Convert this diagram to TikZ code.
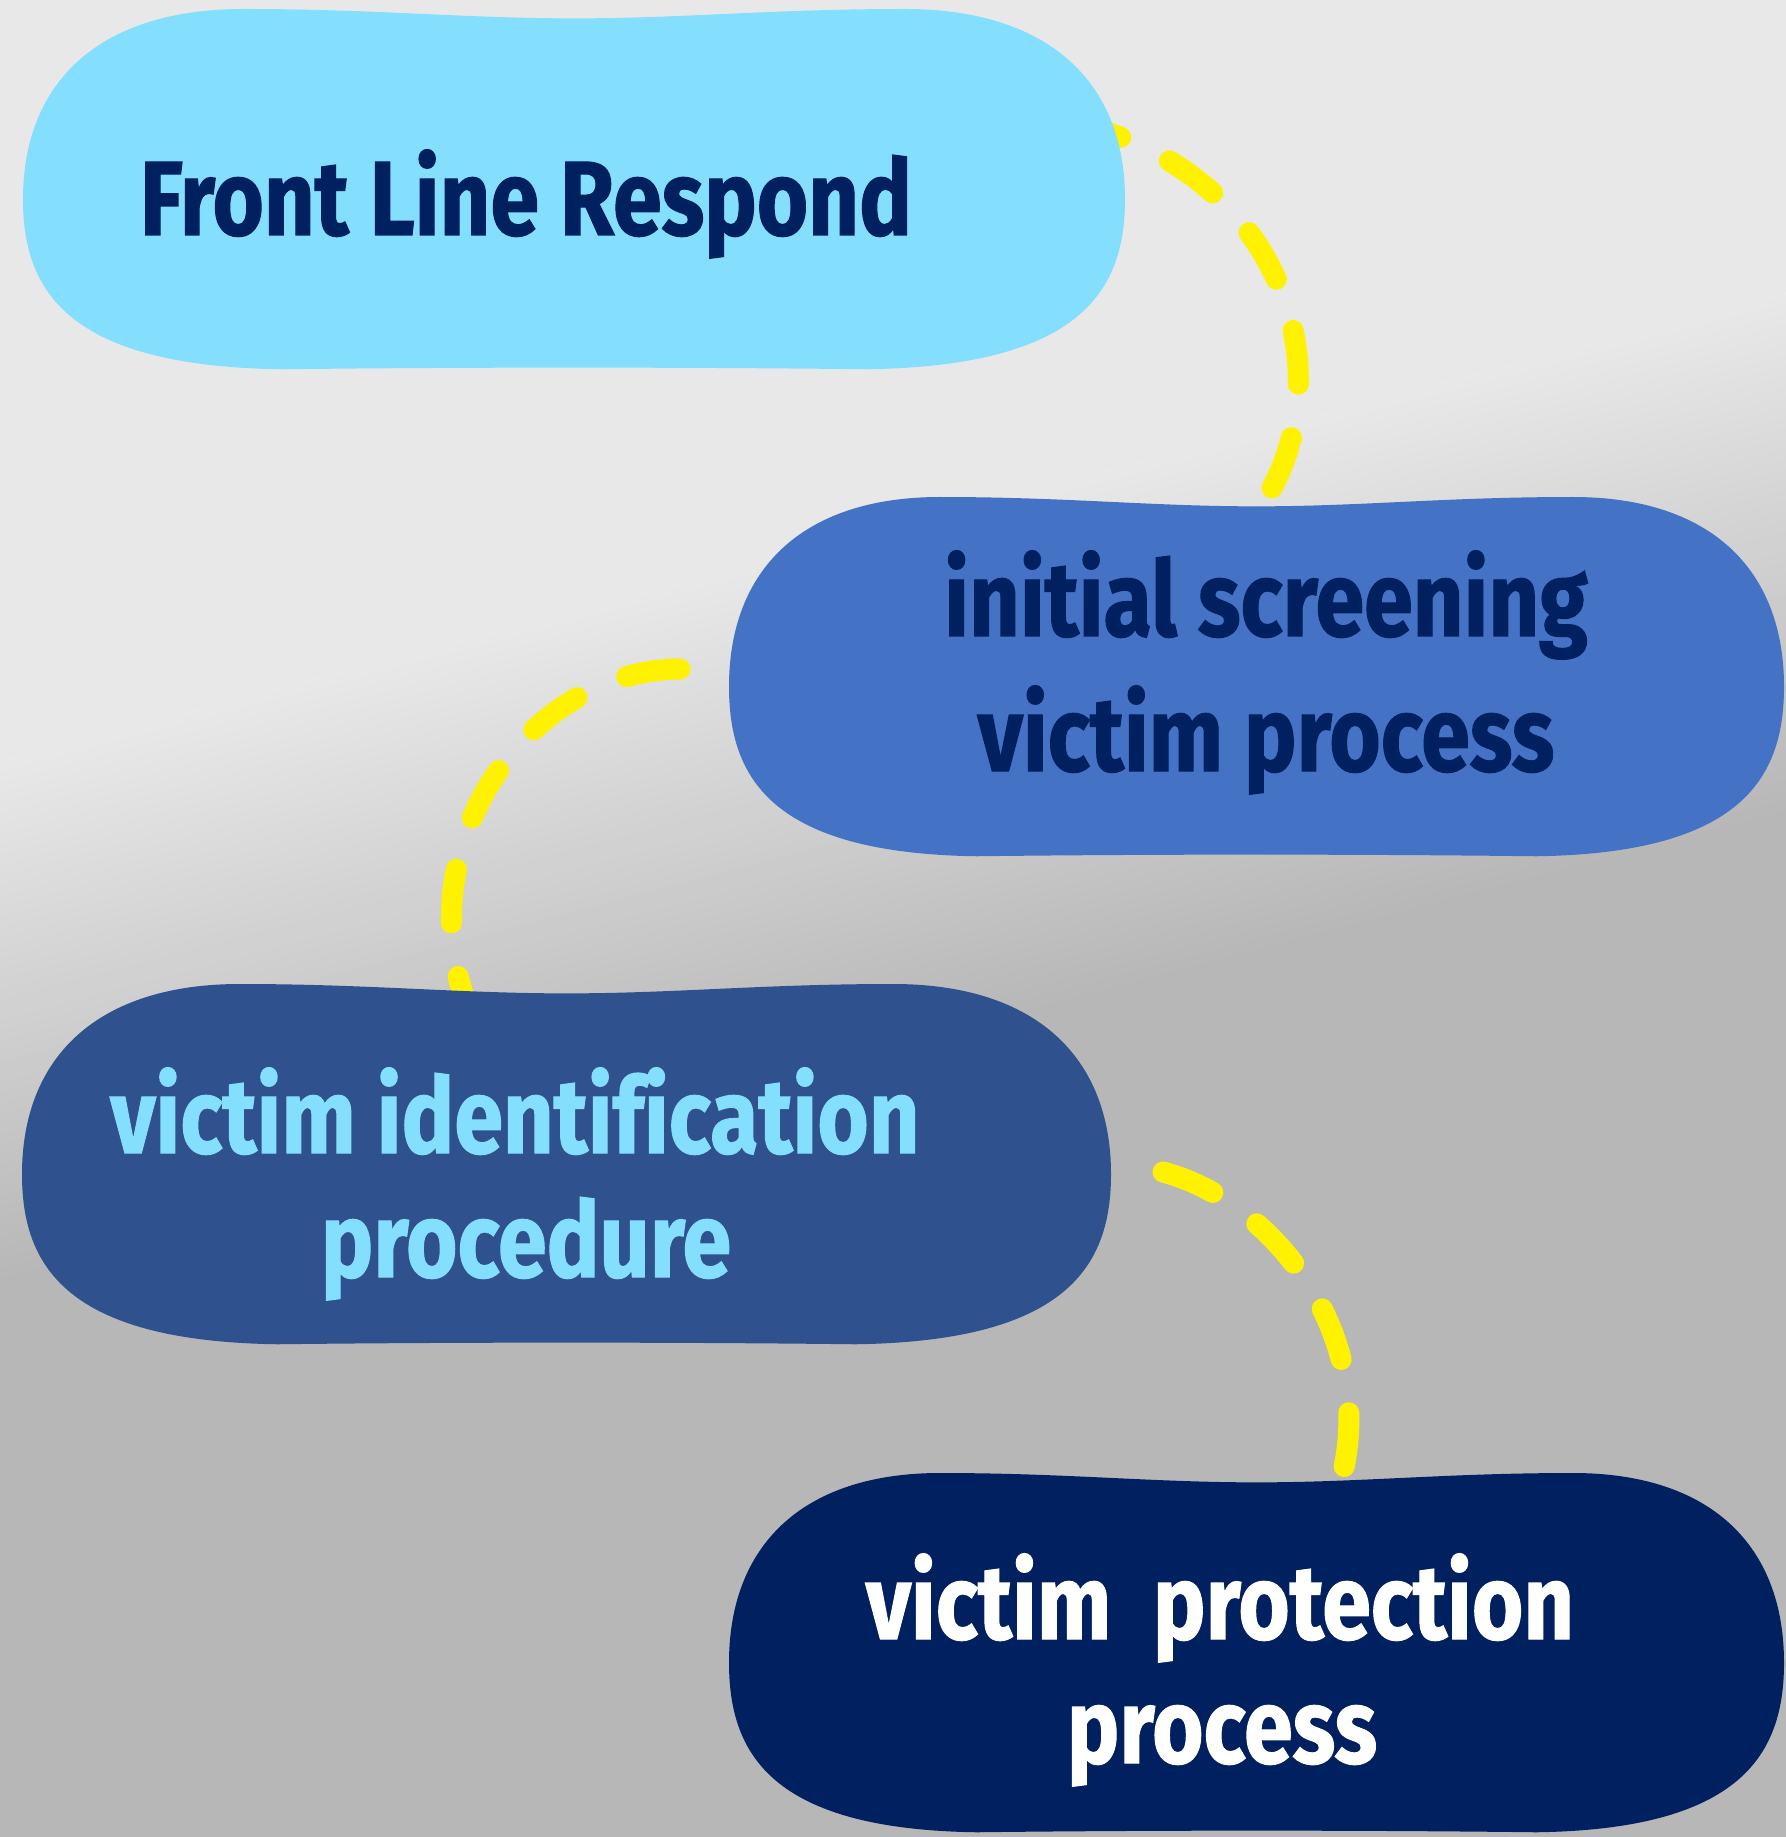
\documentclass[tikz,border=0pt]{standalone}
\usepackage{fontspec}
\newfontfamily\blobfont[FakeStretch=0.835, Ligatures=NoCommon, BoldFeatures={FakeBold=1}]{Fira Sans}

\definecolor{bgtop}{HTML}{E8E8E8}
\definecolor{bgdark}{HTML}{B7B7B7}
\definecolor{skyblue}{HTML}{84DEFE}
\definecolor{midblue}{HTML}{4472C4}
\definecolor{steelblue}{HTML}{2F528F}
\definecolor{navy}{HTML}{002060}

\tikzset{
  blobtext/.style={font=\blobfont\bfseries\fontsize{30}{36}\selectfont, inner sep=0pt, anchor=base},
  flow/.style={yellow, line width=0.21cm, line cap=round, dash pattern=on 0.54cm off 0.54cm}
}

% blob: x, y (top left), width, height, colour
\newcommand{\blob}[5]{%
  \fill[#5, shift={(#1,#2)}, xscale=#3, yscale=#4]
    (0.2,0) .. controls (0.32,0) and (0.4,0.026) .. (0.5,0.026)
    .. controls (0.6,0.026) and (0.68,0) .. (0.8,0)
    .. controls (0.93,0) and (1,0.2) .. (1,0.527)
    .. controls (1,0.78) and (0.96,0.99) .. (0.765,0.998)
    .. controls (0.6,0.992) and (0.4,0.992) .. (0.235,0.998)
    .. controls (0.04,0.99) and (0,0.78) .. (0,0.527)
    .. controls (0,0.2) and (0.07,0) .. (0.2,0) -- cycle;}

\begin{document}
\begin{tikzpicture}[x=0.01cm, y=-0.01cm]
  \useasboundingbox (0,0) rectangle (1786,1837);
  % background, darkening across a tilted line
  \begin{scope}
    \clip (0,0) rectangle (1786,1837);
    \begin{scope}[shift={(0,762)}, rotate=14.7, x=1cm, y=1cm]
      \fill[bgtop] (-3,0) rectangle (25,10);
      \foreach \i [evaluate=\i as \p using {int(100-2*\i)}] in {0,...,50}
        \fill[bgtop!\p!bgdark] (-3,-0.1*\i) rectangle (25,-0.1*\i-0.11);
      \fill[bgdark] (-3,-25) rectangle (25,-5.1);
    \end{scope}
  \end{scope}

  % connectors (behind the blobs)
  \coordinate (frl-out) at (1100,130);
  \coordinate (isv-in) at (1265,500);
  \coordinate (isv-out) at (680,669);
  \coordinate (vip-in) at (465,1000);
  \coordinate (vip-out) at (1163,1172);
  \coordinate (vpp-in) at (1343,1472);
  \draw[flow, dash phase=0.32cm] (frl-out) .. controls (1290,190) and (1340,380) .. (isv-in);
  \draw[flow] (isv-out) .. controls (530,670) and (410,840) .. (vip-in);
  \draw[flow] (vip-out) .. controls (1270,1200) and (1375,1330) .. (vpp-in);

  % blobs
  \blob{23}{9}{1102}{361}{skyblue}
  \blob{729}{497}{1055}{360}{midblue}
  \blob{22}{984}{1089}{361}{steelblue}
  \blob{729}{1473}{1055}{360}{navy}

  % texts
  \node[blobtext, text=navy] (frl) at (526,235) {Front Line Respond};
  \node[blobtext, text=navy] (isv1) at (1266,636) {initial screening};
  \node[blobtext, text=navy] (isv2) at (1266,771) {victim process};
  \node[blobtext, text=skyblue] (vip1) at (515,1153) {victim identification};
  \node[blobtext, text=skyblue] (vip2) at (526,1277) {procedure};
  \node[blobtext, text=white] (vpp1) at (1220,1639) {victim\ \ protection};
  \node[blobtext, text=white] (vpp2) at (1222,1763) {process};
\end{tikzpicture}
\end{document}
